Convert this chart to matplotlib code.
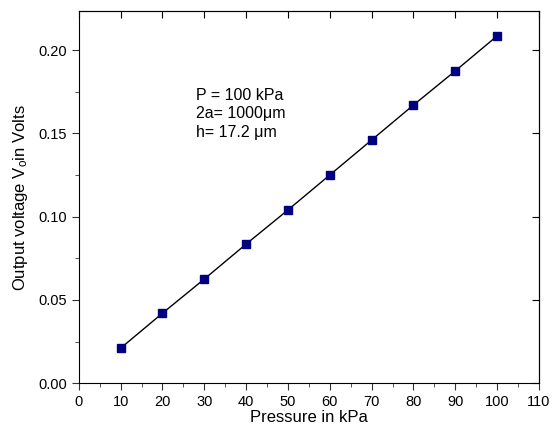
import numpy as np
import matplotlib
matplotlib.use("Agg")
import matplotlib.pyplot as plt
from matplotlib.ticker import MultipleLocator

plt.rcParams['font.family'] = ['Liberation Sans', 'DejaVu Sans']
plt.rcParams['mathtext.fontset'] = 'custom'
plt.rcParams['mathtext.rm'] = 'Liberation Sans'
plt.rcParams['mathtext.it'] = 'Liberation Sans'

pressure = [10, 20, 30, 40, 50, 60, 70, 80, 90, 100]
voltage = [0.021, 0.042, 0.0625, 0.0835, 0.104, 0.125, 0.146, 0.167, 0.1875, 0.2085]

fig = plt.figure(figsize=(5.55, 4.3), dpi=100)
ax = fig.add_axes([0.142, 0.109, 0.829, 0.865])

ax.plot(pressure, voltage, color='black', lw=1.0, marker='s', ms=5.5,
        markerfacecolor='#000080', markeredgecolor='#000080')

ax.set_xlim(0, 110)
ax.set_ylim(0, 0.2234)
ax.xaxis.set_major_locator(MultipleLocator(10))
ax.xaxis.set_minor_locator(MultipleLocator(5))
ax.yaxis.set_major_locator(MultipleLocator(0.05))
ax.yaxis.set_minor_locator(MultipleLocator(0.025))
ax.yaxis.set_major_formatter(matplotlib.ticker.FormatStrFormatter('%.2f'))

ax.tick_params(which='both', direction='out', labelsize=10.5, color='#333333')
ax.tick_params(which='major', length=5)
ax.tick_params(which='minor', length=3)

# mirrored inward ticks on top/right
axt = ax.secondary_xaxis('top')
axt.xaxis.set_major_locator(MultipleLocator(10))
axt.tick_params(direction='in', length=5, labeltop=False)
axr = ax.secondary_yaxis('right')
axr.yaxis.set_major_locator(MultipleLocator(0.05))
axr.tick_params(direction='in', length=5, labelright=False)

ax.set_xlabel('Pressure in kPa', fontsize=12, labelpad=1)
ax.set_ylabel('Output voltage V$_\\mathregular{o}$in Volts', fontsize=12, labelpad=6)

ax.text(28, 0.1775, 'P = 100 kPa\n2a= 1000\u03bcm\nh= 17.2 \u03bcm',
        fontsize=11.5, va='top', linespacing=1.3)

fig.savefig('out.png', dpi=100)
